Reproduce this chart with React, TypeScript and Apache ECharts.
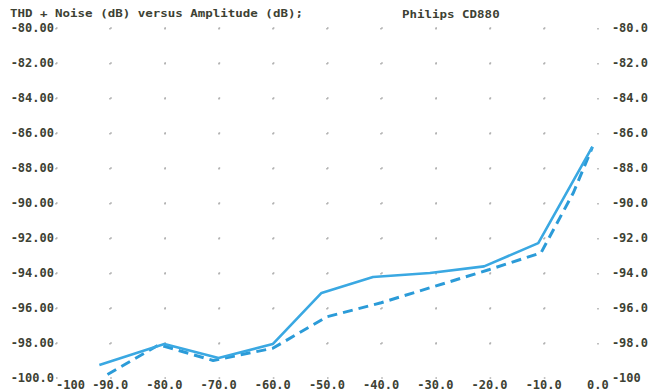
import React, { useEffect, useRef } from "react";
import * as echarts from "echarts";

const titleText = "THD + Noise (dB) versus Amplitude (dB);";
const deviceText = "Philips CD880";

// amplitude (dB) / THD+N (dB)
const solidX = [-92, -80, -70, -60, -51, -41.5, -31, -21, -11, -1];
const solidY = [-99.26, -98.06, -98.86, -98.06, -95.14, -94.23, -94.0, -93.62, -92.29, -86.78];

const dashedX = [-90.5, -81, -71, -60, -50, -40, -20, -10.5, -4.5, -1];
const dashedY = [-99.8, -98.1, -99.0, -98.3, -96.5, -95.7, -93.8, -92.85, -89.4, -86.8];

const xMin = -100, xMax = 0, xStep = 10;
const yMin = -100, yMax = -80, yStep = 2;

const textColor = "#3d4133";
const font = "'DejaVu Sans Mono', monospace";

function trimDot(s: string) {
  return s.endsWith(".") ? s.slice(0, -1) : s;
}

export default function App() {
  const ref = useRef<HTMLDivElement>(null);
  useEffect(() => {
    if (!ref.current) return;
    const chart = echarts.init(ref.current, undefined, { renderer: "svg" });
    const labelStyle = {
      color: textColor,
      fontFamily: font,
      fontWeight: "bold" as const,
      fontSize: 12,
    };
    const dotLine = (len: number) => ({
      show: true,
      lineStyle: { color: "#b0b0b0", width: 1.6, type: [1.6, len - 1.6] },
    });
    chart.setOption({
      animation: false,
      backgroundColor: "#ffffff",
      grid: { left: 56, right: 53, top: 28, bottom: 13, containLabel: false },
      graphic: [
        {
          type: "text",
          x: 10,
          y: 9,
          scaleY: 0.8,
          style: { text: titleText, fill: textColor, font: `bold 12.5px ${font}`, textVerticalAlign: "top" },
        },
        {
          type: "text",
          x: 402,
          y: 10,
          scaleY: 0.8,
          style: { text: deviceText, fill: textColor, font: `bold 12.5px ${font}`, textVerticalAlign: "top" },
        },
      ],
      xAxis: {
        type: "value",
        min: xMin,
        max: xMax,
        interval: xStep,
        axisLine: { show: false },
        axisTick: { show: false },
        splitLine: dotLine(35),
        axisLabel: {
          ...labelStyle,
          margin: 1,
          alignMinLabel: "left",
          formatter: (v: number) => trimDot(v.toFixed(1).slice(0, 5)),
        },
      },
      yAxis: [
        {
          type: "value",
          min: yMin,
          max: yMax,
          interval: yStep,
          position: "left",
          axisLine: { show: false },
          axisTick: { show: false },
          splitLine: dotLine(54.2),
          axisLabel: {
            ...labelStyle,
            margin: 2,
            formatter: (v: number) => v.toFixed(2).slice(0, 6),
          },
        },
        {
          type: "value",
          min: yMin,
          max: yMax,
          interval: yStep,
          position: "right",
          axisLine: { show: false },
          axisTick: { show: false },
          splitLine: { show: false },
          axisLabel: {
            ...labelStyle,
            margin: 14,
            formatter: (v: number) => trimDot(v.toFixed(1).slice(0, 5)),
          },
        },
      ],
      series: [
        {
          type: "line",
          data: dashedX.map((x, i) => [x, dashedY[i]]),
          showSymbol: false,
          lineStyle: { color: "#2b9bd8", width: 3, type: [10, 6] },
          z: 2,
        },
        {
          type: "line",
          data: solidX.map((x, i) => [x, solidY[i]]),
          showSymbol: false,
          lineStyle: { color: "#3aa8e2", width: 2.6 },
          z: 3,
        },
      ],
    });
    return () => chart.dispose();
  }, []);
  return <div ref={ref} style={{ width: 651, height: 391, position: "absolute", left: 0, top: 0 }} />;
}
